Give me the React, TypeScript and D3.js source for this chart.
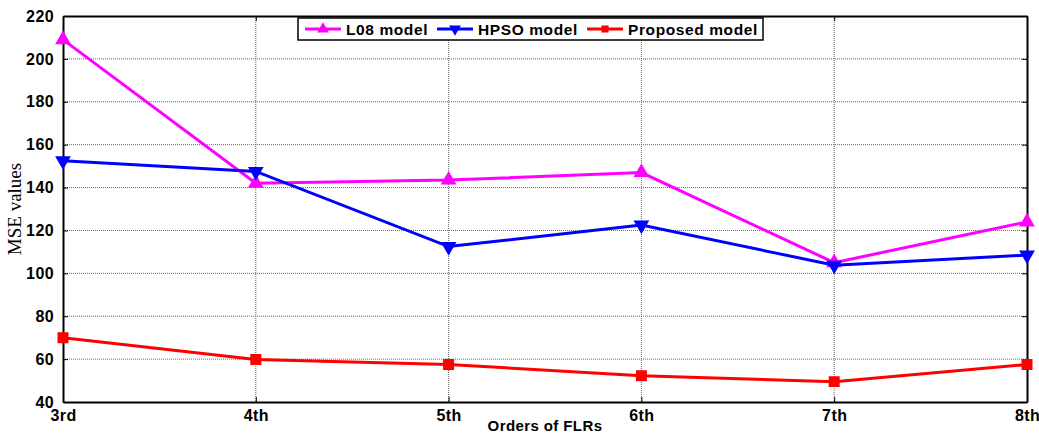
import React, {useEffect, useRef} from 'react';
import * as d3 from 'd3';

// chart values
const orders = ["3rd", "4th", "5th", "6th", "7th", "8th"];
const l08Values = [209, 142, 143.5, 147, 105, 124];
const hpsoValues = [152.5, 147.5, 112.5, 122.5, 103.8, 108.5];
const proposedValues = [70, 59.8, 57.5, 52.2, 49.5, 57.5];
const yTicks = [40, 60, 80, 100, 120, 140, 160, 180, 200, 220];

const seriesList = [
    {name: "L08 model", values: l08Values, color: "#ff00ff", marker: "up"},
    {name: "HPSO model", values: hpsoValues, color: "#0000ff", marker: "down"},
    {name: "Proposed model", values: proposedValues, color: "#ff0000", marker: "square"},
];

const App = () => {
    const ref = useRef<SVGSVGElement>(null);

    useEffect(() => {
        const svg = d3.select(ref.current);
        svg.selectAll("*").remove();

        const width = 1039;
        const height = 434;
        const margin = {top: 16, right: 12, bottom: 32, left: 63};
        const innerW = width - margin.left - margin.right;
        const innerH = height - margin.top - margin.bottom;

        const g = svg.append("g")
            .attr("transform", `translate(${margin.left},${margin.top})`);

        // scales
        const xScale = d3.scalePoint<string>()
            .domain(orders)
            .range([0, innerW]);

        const yScale = d3.scaleLinear()
            .domain([40, 220])
            .range([innerH, 0]);

        // grid
        g.append("g")
            .selectAll("line")
            .data(yTicks.slice(1, -1))
            .enter()
            .append("line")
            .attr("x1", 0)
            .attr("x2", innerW)
            .attr("y1", d => yScale(d))
            .attr("y2", d => yScale(d))
            .attr("stroke", "#666")
            .attr("stroke-width", 1)
            .attr("stroke-dasharray", "1,1");

        g.append("g")
            .selectAll("line")
            .data(orders.slice(1, -1))
            .enter()
            .append("line")
            .attr("x1", d => xScale(d)!)
            .attr("x2", d => xScale(d)!)
            .attr("y1", 0)
            .attr("y2", innerH)
            .attr("stroke", "#666")
            .attr("stroke-width", 1)
            .attr("stroke-dasharray", "1,1");

        // axes (ticks pointing inward)
        const xAxis = d3.axisBottom(xScale).tickSizeInner(-5).tickSizeOuter(0).tickPadding(8);
        const yAxis = d3.axisLeft(yScale).tickValues(yTicks).tickSizeInner(-5).tickSizeOuter(0).tickPadding(9);
        const xAxisTop = d3.axisTop(xScale).tickSizeInner(-5).tickSizeOuter(0).tickFormat(() => "");
        const yAxisRight = d3.axisRight(yScale).tickValues(yTicks).tickSizeInner(-5).tickSizeOuter(0).tickFormat(() => "");

        const axisStyle = (sel: any) => {
            sel.selectAll("path").attr("stroke", "#000").attr("stroke-width", 2);
            sel.selectAll("line").attr("stroke", "#000");
            sel.selectAll("text")
                .attr("font-family", "Liberation Sans, Arial, sans-serif")
                .attr("font-weight", "bold")
                .attr("font-size", 16)
                .attr("letter-spacing", 0.4)
                .attr("fill", "#000");
        };

        g.append("g").attr("transform", `translate(0,${innerH})`).call(xAxis).call(axisStyle);
        g.append("g").call(yAxis).call(axisStyle);
        g.append("g").call(xAxisTop).call(axisStyle);
        g.append("g").attr("transform", `translate(${innerW},0)`).call(yAxisRight).call(axisStyle);

        // lines and markers
        const line = d3.line<number>()
            .x((d, i) => xScale(orders[i])!)
            .y(d => yScale(d));

        const triUp = d3.symbol().type(d3.symbolTriangle).size(75);

        seriesList.forEach(s => {
            g.append("path")
                .datum(s.values)
                .attr("fill", "none")
                .attr("stroke", s.color)
                .attr("stroke-width", 3)
                .attr("d", line);

            const m = g.append("g").selectAll("path")
                .data(s.values)
                .enter()
                .append("path")
                .attr("fill", s.color)
                .attr("stroke", s.color)
                .attr("stroke-width", 1.5);
            if (s.marker === "square") {
                m.attr("d", d3.symbol().type(d3.symbolSquare).size(90)()!)
                    .attr("transform", (d, i) => `translate(${xScale(orders[i])},${yScale(d)})`);
            } else {
                const rot = s.marker === "down" ? 180 : 0;
                m.attr("d", triUp()!)
                    .attr("transform", (d, i) => `translate(${xScale(orders[i])},${yScale(d)}) rotate(${rot})`);
            }
        });

        // legend
        const legend = svg.append("g").attr("transform", "translate(298,18)");
        legend.append("rect")
            .attr("width", 465)
            .attr("height", 22)
            .attr("fill", "#fff")
            .attr("stroke", "#000")
            .attr("stroke-width", 1.5);

        const legendX = [7, 139, 289];
        seriesList.forEach((s, i) => {
            const lg = legend.append("g").attr("transform", `translate(${legendX[i]},11)`);
            lg.append("line")
                .attr("x1", 0).attr("x2", 36)
                .attr("stroke", s.color).attr("stroke-width", 3);
            if (s.marker === "square") {
                lg.append("path")
                    .attr("d", d3.symbol().type(d3.symbolSquare).size(50)()!)
                    .attr("transform", "translate(18,0)")
                    .attr("fill", s.color);
            } else {
                lg.append("path")
                    .attr("d", d3.symbol().type(d3.symbolTriangle).size(60)()!)
                    .attr("transform", `translate(18,0) rotate(${s.marker === "down" ? 180 : 0})`)
                    .attr("fill", s.color);
            }
            lg.append("text")
                .attr("x", 41)
                .attr("y", 5.5)
                .attr("font-family", "Liberation Sans, Arial, sans-serif")
                .attr("font-weight", "bold")
                .attr("font-size", 15.5)
                .attr("letter-spacing", 0.6)
                .text(s.name);
        });

        // axis labels
        svg.append("text")
            .attr("text-anchor", "middle")
            .attr("x", margin.left + innerW / 2)
            .attr("y", 431)
            .attr("font-family", "Liberation Sans, Arial, sans-serif")
            .attr("font-weight", "bold")
            .attr("font-size", 15)
            .attr("letter-spacing", 0.4)
            .text("Orders of FLRs");

        svg.append("text")
            .attr("text-anchor", "middle")
            .attr("transform", `translate(21,${margin.top + innerH / 2}) rotate(-90)`)
            .attr("font-family", "Liberation Serif, Times New Roman, serif")
            .attr("font-size", 19)
            .text("MSE values");
    }, []);

    return (
        <svg ref={ref} width={1039} height={434}
             style={{position: "absolute", left: 0, top: 0, background: "#fff"}}></svg>
    );
};

export default App;
